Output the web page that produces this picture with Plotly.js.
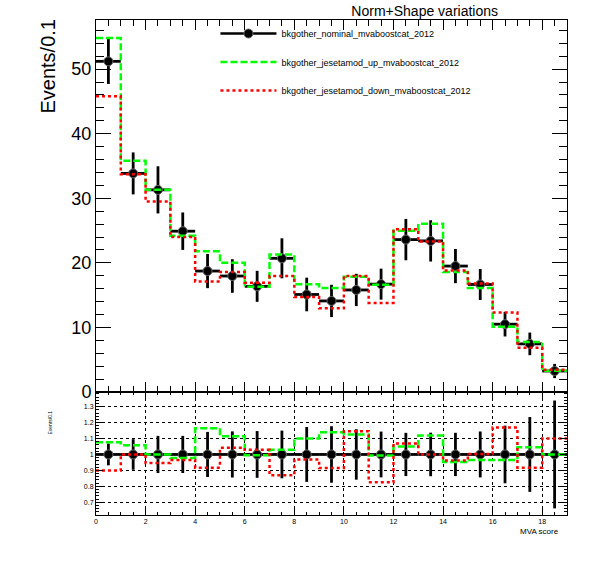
<!DOCTYPE html>
<html>
<head>
<meta charset="utf-8">
<script src="https://cdn.plot.ly/plotly-3.0.1.min.js"></script>
<style>html,body{margin:0;padding:0;background:#fff;}#chart{width:596px;height:572px;}</style>
</head>
<body>
<div id="chart"></div>
<script>
// ---- data ----
const binEdges = [0,1,2,3,4,5,6,7,8,9,10,11,12,13,14,15,16,17,18,19];
const binCenters = [0.5,1.5,2.5,3.5,4.5,5.5,6.5,7.5,8.5,9.5,10.5,11.5,12.5,13.5,14.5,15.5,16.5,17.5,18.5];
const nominal = [51.2, 33.85, 31.3, 24.9, 18.73, 17.96, 16.36, 20.7, 15.1, 14.1, 15.8, 16.7, 23.6, 23.4, 19.5, 16.65, 10.5, 7.45, 3.25];
const nominalErr = [3.5, 3.25, 3.65, 2.9, 2.65, 2.6, 2.4, 3.1, 2.6, 2.5, 2.5, 2.4, 3.2, 3.2, 2.65, 2.4, 1.9, 1.75, 1.1];
const upVals = [54.8, 35.8, 31.3, 24.2, 21.8, 20.0, 16.3, 21.3, 16.7, 16.1, 17.85, 16.6, 24.97, 26.05, 18.6, 16.1, 10.1, 7.74, 3.3];
const downVals = [45.8, 33.7, 29.5, 24.0, 17.1, 18.6, 16.9, 17.96, 14.7, 12.95, 17.96, 13.8, 25.2, 23.3, 18.8, 16.8, 12.3, 6.86, 3.45];
const ratioUp = [1.077, 1.058, 1.0, 0.977, 1.165, 1.114, 0.995, 1.029, 1.10, 1.14, 1.125, 0.994, 1.05, 1.119, 0.952, 0.965, 0.965, 1.046, 1.0];
const ratioDown = [0.90, 1.0, 0.946, 0.965, 0.917, 1.042, 1.029, 0.869, 0.969, 0.915, 1.146, 0.825, 1.069, 1.0, 0.962, 1.003, 1.169, 0.917, 1.10];
const names = ["bkgother_nominal_mvaboostcat_2012", "bkgother_jesetamod_up_mvaboostcat_2012", "bkgother_jesetamod_down_mvaboostcat_2012"];
const titleText = "Norm+Shape variations";
const yTitle = "Events/0.1";
const xTitle = "MVA score";

// ---- helpers ----
const stepY = v => v.concat([v[v.length - 1]]);
const halfWidth = binCenters.map(() => 0.5);
const ones = binCenters.map(() => 1);
const relErr = nominalErr.map((e, i) => e / nominal[i]);

const FONT = "Liberation Sans, Arial, Helvetica, sans-serif";
const GREEN = "#00ff00", RED = "#ff0000";
const markerStyle = {symbol: "circle", size: 9, color: "black", line: {color: "#666", width: 1}};

const traces = [
  // legend-only sample for nominal
  {x: [null], y: [null], mode: "lines+markers", name: names[0], legendgroup: "a",
   line: {color: "black", width: 2.5}, marker: markerStyle, xaxis: "x", yaxis: "y", hoverinfo: "skip"},
  {x: binCenters, y: nominal, mode: "markers", showlegend: false, legendgroup: "a",
   marker: markerStyle,
   error_y: {type: "data", array: nominalErr, color: "black", thickness: 2.8, width: 0},
   error_x: {type: "data", array: halfWidth, color: "black", thickness: 2.8, width: 0},
   xaxis: "x", yaxis: "y"},
  {x: binEdges, y: stepY(upVals), mode: "lines", name: names[1], legendgroup: "b",
   line: {shape: "hv", color: GREEN, width: 2.5, dash: "7px,3px"}, xaxis: "x", yaxis: "y"},
  {x: binEdges, y: stepY(downVals), mode: "lines", name: names[2], legendgroup: "c",
   line: {shape: "hv", color: RED, width: 2.5, dash: "3px,3px"}, xaxis: "x", yaxis: "y"},
  // ratio panel
  {x: binCenters, y: ones, mode: "markers", showlegend: false,
   marker: markerStyle,
   error_y: {type: "data", array: relErr, color: "black", thickness: 2.8, width: 0},
   error_x: {type: "data", array: halfWidth, color: "black", thickness: 2.8, width: 0},
   xaxis: "x2", yaxis: "y2"},
  {x: binEdges, y: stepY(ratioUp), mode: "lines", showlegend: false,
   line: {shape: "hv", color: GREEN, width: 2.5, dash: "7px,3px"}, xaxis: "x2", yaxis: "y2"},
  {x: binEdges, y: stepY(ratioDown), mode: "lines", showlegend: false,
   line: {shape: "hv", color: RED, width: 2.5, dash: "3px,3px"}, xaxis: "x2", yaxis: "y2"}
];

const L = 95.5, R = 29.3, T = 20, B = 57;
const plotW = 596 - L - R, plotH = 572 - T - B;
const split = (515 - 392) / plotH;
const px2x = p => (p - L) / plotW;
const py2y = p => (572 - B - p) / plotH;

const commonAxis = {showline: true, linecolor: "black", linewidth: 1, mirror: "ticks",
  ticks: "inside", tickcolor: "black", zeroline: false};

const layout = {
  width: 596, height: 572,
  margin: {l: L, r: R, t: T, b: B, pad: 0},
  paper_bgcolor: "white", plot_bgcolor: "white",
  font: {family: FONT, color: "black"},
  title: {text: titleText, font: {size: 14, family: FONT}, xref: "container", yref: "container",
    x: 424.7 / 596, y: 1 - 11 / 572, xanchor: "center", yanchor: "middle"},
  showlegend: true,
  legend: {x: px2x(215), y: py2y(19), xanchor: "left", yanchor: "top",
    font: {size: 9, family: FONT}, bgcolor: "rgba(0,0,0,0)", borderwidth: 0,
    tracegroupgap: 9.5, itemwidth: 56},
  xaxis: Object.assign({}, commonAxis, {domain: [0, 1], anchor: "y", range: [0, 19],
    tick0: 0, dtick: 2, ticklen: 10, showticklabels: false, showgrid: false, matches: "x2",
    minor: {dtick: 0.5, ticklen: 6, ticks: "inside", tickcolor: "black", showgrid: false}}),
  yaxis: Object.assign({}, commonAxis, {domain: [split, 1], anchor: "x", range: [0, 57.6],
    tick0: 0, dtick: 10, ticklen: 15, showgrid: false,
    tickfont: {size: 18, family: FONT},
    minor: {dtick: 2, ticklen: 8, ticks: "inside", tickcolor: "black", showgrid: false}}),
  xaxis2: Object.assign({}, commonAxis, {domain: [0, 1], anchor: "y2", range: [0, 19],
    tick0: 0, dtick: 2, ticklen: 6, showgrid: true, gridcolor: "black", griddash: "dot", gridwidth: 1,
    tickfont: {size: 7, family: FONT},
    minor: {dtick: 0.5, ticklen: 3, ticks: "inside", tickcolor: "black", showgrid: false}}),
  yaxis2: Object.assign({}, commonAxis, {domain: [0, split], anchor: "x2", range: [0.62, 1.392],
    tick0: 0.7, dtick: 0.1, ticklen: 7, showgrid: true, gridcolor: "black", griddash: "dot", gridwidth: 1,
    tickfont: {size: 7, family: FONT},
    minor: {dtick: 0.02, ticklen: 3, ticks: "inside", tickcolor: "black", showgrid: false}}),
  annotations: [
    {text: yTitle, xref: "paper", yref: "paper", x: px2x(47), y: py2y(66), textangle: -90,
     showarrow: false, xanchor: "center", yanchor: "middle", font: {size: 20, family: FONT}},
    {text: yTitle, xref: "paper", yref: "paper", x: px2x(49), y: py2y(423), textangle: -90,
     showarrow: false, xanchor: "center", yanchor: "middle", font: {size: 5, family: FONT}},
    {text: xTitle, xref: "paper", yref: "paper", x: px2x(561), y: py2y(531),
     showarrow: false, xanchor: "right", yanchor: "middle", font: {size: 8, family: FONT}}
  ]
};

Plotly.newPlot("chart", traces, layout, {displayModeBar: false, staticPlot: true});
</script>
</body>
</html>
